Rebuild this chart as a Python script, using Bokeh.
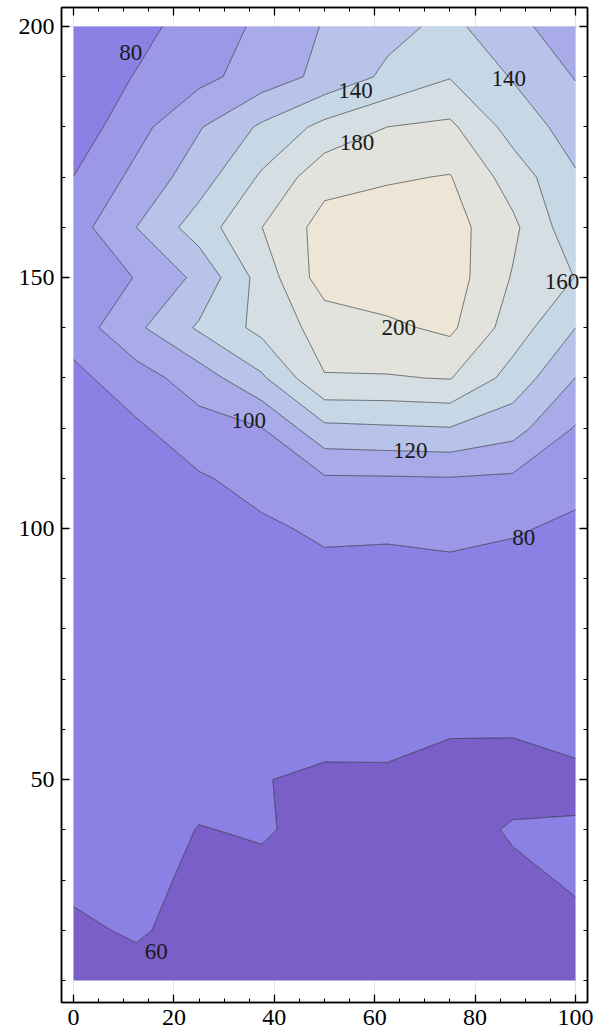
import numpy as np
from bokeh.plotting import figure
from bokeh.models import FixedTicker, LinearAxis, Range1d
from bokeh.core.properties import value
from bokeh.embed import file_html
from bokeh.resources import INLINE

# ---- data ----
x_vals = [0, 12.5, 25, 37.5, 50, 62.5, 75, 87.5, 100]
y_vals = [10, 20, 30, 40, 50, 60, 70, 80, 90, 100,
          110, 120, 130, 140, 150, 160, 170, 180, 190, 200]

z_y10 = [57, 57, 56.5, 56, 55.5, 55.5, 55, 55.5, 56.5]
z_y20 = [58.5, 61, 57, 56.5, 56, 55.5, 55.5, 56, 58]
z_y30 = [61.7, 62.1, 58.5, 58, 56.5, 56, 55.5, 58, 61]
z_y40 = [62.8, 64, 59.7, 60.8, 57.5, 57.5, 56, 61, 60.8]
z_y50 = [64.7, 66, 62.6, 60.3, 58.6, 58.6, 56, 56, 58]
z_y60 = [66.5, 67.9, 65.4, 63.7, 62.6, 62.7, 60.9, 60.8, 62.7]
z_y70 = [68.3, 69.8, 68.2, 67.3, 66.8, 67, 65.9, 65.1, 66.5]
z_y80 = [70.2, 71.8, 71, 71, 70.9, 71.2, 71, 69.4, 70.2]
z_y90 = [72, 73.7, 73.8, 73.5, 75, 75.5, 76, 73.7, 74]
z_y100 = [74, 75.6, 76.7, 77, 83, 82, 83.5, 81.5, 77]
z_y110 = [75, 77.6, 78, 86.5, 97.7, 98.2, 99.1, 96.9, 85]
z_y120 = [77, 77, 92.2, 99.5, 135.3, 137.4, 139.2, 128, 98.5]
z_y130 = [74.8, 91.4, 109.8, 136.8, 179, 178.6, 181, 152.2, 119.8]
z_y140 = [89, 116.1, 142.7, 165.9, 188, 196.3, 204, 170.4, 140]
z_y150 = [85, 100.9, 124.8, 168.2, 210, 212, 210, 178.5, 159.5]
z_y160 = [91.3, 120, 149.6, 179.8, 208, 211, 208, 184.4, 146]
z_y170 = [80.2, 105.3, 130.9, 162.9, 192.9, 197.9, 201, 171, 142]
z_y180 = [68, 93.3, 118.4, 143.3, 166, 180, 184, 152.2, 131]
z_y190 = [68, 81, 94.3, 109.2, 125.5, 144, 159, 138.6, 119]
z_y200 = [64, 74, 88.5, 103.8, 121.4, 134, 145, 126, 108]

contour_levels = [60, 80, 100, 120, 140, 160, 180, 200]

x_ticks = [0, 20, 40, 60, 80, 100]
y_ticks = [50, 100, 150, 200]

label_text = ["80", "140", "180", "140", "160", "200", "100", "120", "80", "60"]
label_x = [11.4, 56.2, 56.5, 86.7, 97.3, 64.8, 34.9, 67.1, 89.7, 16.5]
label_y = [194.9, 187.3, 177.0, 189.6, 149.3, 140.1, 121.5, 115.5, 98.3, 15.7]

# ---- styling ----
band_colors = ["#7B5FC8", "#8B80E4", "#9C97E7", "#A9ABE9", "#B7C3E9",
               "#C6D8E6", "#D5DEE3", "#E1E3DC", "#EDE6D7"]
FONT = "Liberation Serif"

z = np.array([z_y10, z_y20, z_y30, z_y40, z_y50, z_y60, z_y70, z_y80, z_y90, z_y100,
              z_y110, z_y120, z_y130, z_y140, z_y150, z_y160, z_y170, z_y180,
              z_y190, z_y200], dtype=float)

levels = [float(z.min()) - 1] + contour_levels + [float(z.max()) + 1]

p = figure(frame_width=526, frame_height=995,
           x_range=Range1d(-2.4, 102.4), y_range=Range1d(5.6, 203.8),
           output_backend="svg", toolbar_location=None,
           x_axis_location=None, y_axis_location=None,
           min_border_left=61, min_border_right=8,
           min_border_top=7, min_border_bottom=34)
p.background_fill_color = "white"
p.border_fill_color = "white"
p.outline_line_color = "black"
p.outline_line_width = 1.5

p.contour(x_vals, y_vals, z, levels=levels, fill_color=band_colors,
          line_color="black", line_alpha=0.55, line_width=0.9)

p.text(x=label_x, y=label_y, text=label_text, text_font=value(FONT),
       text_font_size="23px", text_align="center", text_baseline="middle",
       text_color="#1a1a1a")

def make_axis(ticks, minor, labels):
    ax = LinearAxis(ticker=FixedTicker(ticks=ticks, minor_ticks=minor))
    ax.major_tick_in = 8
    ax.major_tick_out = 0
    ax.minor_tick_in = 4
    ax.minor_tick_out = 0
    ax.axis_line_color = "black"
    ax.axis_line_width = 1.5
    ax.major_tick_line_color = "black"
    ax.minor_tick_line_color = "black"
    ax.major_tick_line_width = 1.3
    ax.minor_tick_line_width = 1.0
    if labels:
        ax.major_label_text_font = FONT
        ax.major_label_text_font_size = "24px"
        ax.major_label_text_color = "black"
        ax.major_label_standoff = 7
    else:
        ax.major_label_overrides = {t: "" for t in ticks}
        ax.major_label_text_font_size = "0px"
        ax.major_label_standoff = 0
    return ax

x_minor = list(range(0, 101, 5))
y_minor = list(range(10, 201, 10))
p.add_layout(make_axis(x_ticks, x_minor, True), "below")
p.add_layout(make_axis(x_ticks, x_minor, False), "above")
p.add_layout(make_axis(y_ticks, y_minor, True), "left")
p.add_layout(make_axis(y_ticks, y_minor, False), "right")

open("out.html", "w").write(file_html(p, INLINE))
